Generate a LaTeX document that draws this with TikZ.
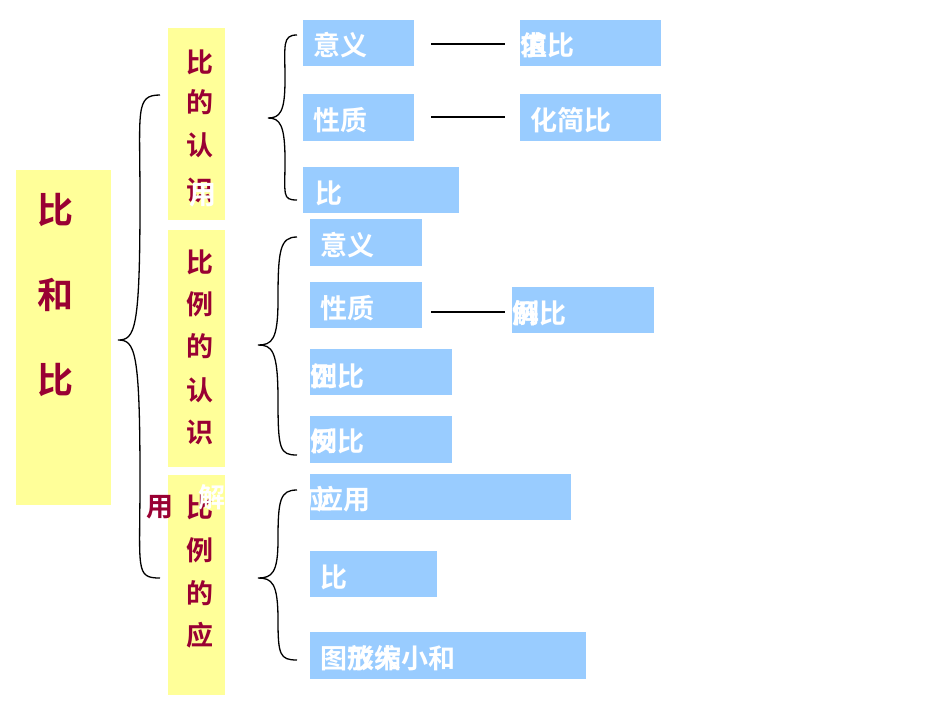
\documentclass[tikz,border=0pt]{standalone}
\usepackage{fontspec}
\newfontfamily\cjk{Noto Sans CJK SC}[BoldFont={Noto Sans CJK SC Bold}]
\definecolor{yel}{HTML}{FFFF99}
\definecolor{blu}{HTML}{99CCFF}
\definecolor{dred}{HTML}{990033}
\begin{document}
\begin{tikzpicture}[x=1pt,y=-1pt,
 ybox/.style={fill=yel,draw=none},
 bbox/.style={fill=blu,draw=none},
 rt/.style={text=dred,font=\cjk\bfseries\fontsize{27}{27}\selectfont,inner sep=0},
 bt/.style={text=white,font=\cjk\bfseries\fontsize{27}{27}\selectfont,inner sep=0,anchor=west},
 br/.style={line width=1.3pt}]
\useasboundingbox (0,0) rectangle (950,713);
\fill[ybox] (16,170) rectangle (111,505);
\node[rt,font=\cjk\bfseries\fontsize{36}{36}\selectfont] (t1) at (55,210) {比};
\node[rt,font=\cjk\bfseries\fontsize{36}{36}\selectfont] (t2) at (55,295) {和};
\node[rt,font=\cjk\bfseries\fontsize{36}{36}\selectfont] (t3) at (55,380) {比};
\fill[ybox] (168,28) rectangle (225,220);
\fill[ybox] (168,230) rectangle (225,467);
\fill[ybox] (168,475) rectangle (225,695);
\foreach \c/\y in {比/62,的/102,认/145,识/190} \node[rt] at (200,\y) {\c};
\node[bt,anchor=center] at (203,195) {用};
\foreach \c/\y in {比/262,例/304,的/346,认/390,识/432} \node[rt] at (200,\y) {\c};
\foreach \c/\y in {比/507,例/550,的/593,应/635} \node[rt] at (200,\y) {\c};
\node[rt] (yong) at (160,507) {用};
\node[bt,anchor=center] at (212,497) {解};
% braces
\draw[br] (160,95) .. controls (135,95) and (140,110) .. (140,200) .. controls (140,330) and (135,340) .. (118,340) .. controls (135,340) and (140,350) .. (140,480) .. controls (140,570) and (135,578) .. (160,578);
\draw[br] (297,35) .. controls (282,35) and (285,45) .. (285,80) .. controls (285,112) and (280,118) .. (268,118) .. controls (280,118) and (285,125) .. (285,160) .. controls (285,195) and (282,200) .. (297,200);
\draw[br] (297,237) .. controls (280,237) and (278,250) .. (278,300) .. controls (278,340) and (272,345) .. (258,345) .. controls (272,345) and (278,350) .. (278,400) .. controls (278,450) and (280,455) .. (297,455);
\draw[br] (297,490) .. controls (280,490) and (278,500) .. (278,540) .. controls (278,573) and (272,578) .. (258,578) .. controls (272,578) and (278,583) .. (278,620) .. controls (278,655) and (280,660) .. (297,660);
% blue boxes
\fill[bbox] (303,20) rectangle (414,66); \node[bt] (a) at (313,45) {意义};
\fill[bbox] (520,20) rectangle (661,66); \node[bt] (b) at (520,45) {\rlap{值}求比};
\fill[bbox] (303,94) rectangle (414,141); \node[bt] (c) at (313,120) {性质};
\fill[bbox] (520,94) rectangle (661,141); \node[bt] (d) at (530,120) {化简比};
\fill[bbox] (303,167) rectangle (459,213); \node[bt] (e) at (315,193) {比};
\fill[bbox] (310,219) rectangle (422,266); \node[bt] (f) at (320,245) {意义};
\fill[bbox] (310,282) rectangle (422,328); \node[bt] (g) at (320,308) {性质};
\fill[bbox] (512,287) rectangle (654,333); \node[bt] (h) at (512,313) {\rlap{例}解比};
\fill[bbox] (310,349) rectangle (452,395); \node[bt] (i) at (310,376) {\rlap{例}正比};
\fill[bbox] (310,416) rectangle (452,463); \node[bt] (j) at (310,441) {\rlap{例}反比};
\fill[bbox] (310,474) rectangle (571,520); \node[bt] (k) at (300,499) {\rlap{\hspace{0.2em}应}\hspace{0.6em}应用};
\fill[bbox] (310,551) rectangle (437,597); \node[bt] (l) at (320,577) {比};
\fill[bbox] (310,632) rectangle (586,679); \node[bt] (m) at (320,658) {图\rlap{放大}形缩小和};
\coordinate (a1) at (431,44); \coordinate (b1) at (505,44);
\coordinate (c1) at (431,117); \coordinate (d1) at (505,117);
\coordinate (g1) at (431,312); \coordinate (h1) at (505,312);
\draw[line width=1.5pt] (a1) -- (b1);
\draw[line width=1.5pt] (c1) -- (d1);
\draw[line width=1.5pt] (g1) -- (h1);
\end{tikzpicture}
\end{document}
